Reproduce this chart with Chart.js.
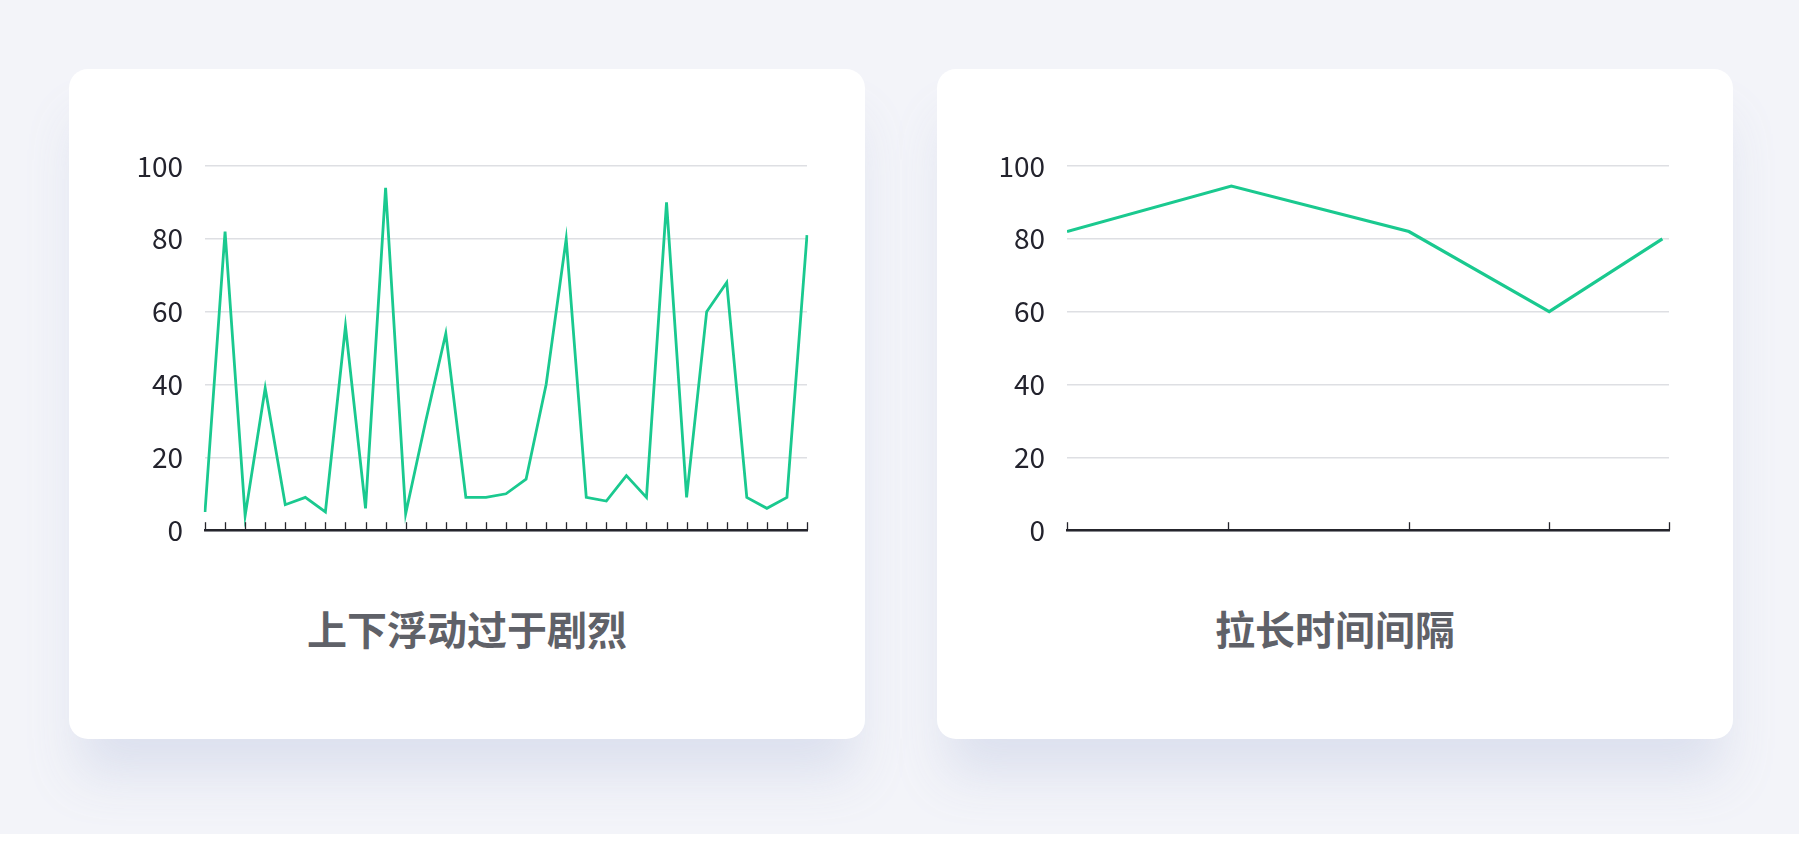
<!DOCTYPE html>
<html>
<head>
<meta charset="utf-8">
<script src="https://cdn.jsdelivr.net/npm/chart.js@4"></script>
<style>
  html, body { margin: 0; padding: 0; }
  body { width: 1799px; height: 859px; background: #ffffff; position: relative; overflow: hidden;
         font-family: "Noto Sans CJK SC", "Noto Sans", sans-serif; }
  .bg { position: absolute; left: 0; top: 0; width: 1799px; height: 834px; background: #f3f4f9; }
  .card { position: absolute; top: 69px; width: 796px; height: 670px; background: #fff; border-radius: 19px;
          box-shadow: 0 45px 50px -10px rgba(216, 221, 236, 0.85); }
  .plot { position: absolute; left: 0; top: 0; width: 796px; height: 500px; }
  .caption { position: absolute; left: 0; width: 796px; top: 530px; text-align: center;
             font-size: 40px; font-weight: 700; color: #5f6168; }
</style>
</head>
<body>
<div class="bg"></div>
<div class="card" style="left:69px">
  <div class="plot"><canvas id="leftChart"></canvas></div>
  <div class="caption">上下浮动过于剧烈</div>
</div>
<div class="card" style="left:937px">
  <div class="plot"><canvas id="rightChart"></canvas></div>
  <div class="caption">拉长时间间隔</div>
</div>
<script>
// left chart: 31 points, jumping up and down
const leftLabels = ["1","2","3","4","5","6","7","8","9","10","11","12","13","14","15","16",
                    "17","18","19","20","21","22","23","24","25","26","27","28","29","30","31"];
const leftValues = [5, 82, 4, 39, 7, 9, 5, 56, 6, 94, 4.5, 30, 54, 9, 9, 10,
                    14, 40, 80, 9, 8, 15, 9, 90, 9, 60, 68, 9, 6, 9, 81];

// right chart: fewer points, uneven spacing
const rightX = [0, 27.3, 56.8, 80.1, 98.9];
const rightValues = [82, 94.5, 82, 60, 80];
const rightTicks = [0, 26.8, 56.8, 80.1, 100];

const yTicks = [0, 20, 40, 60, 80, 100];

const lineColor = "#1ac98f";
const gridColor = "#dedfe3";
const axisColor = "#25252c";

// short tick marks pointing up from the x axis
const upTicks = {
    id: "upTicks",
    afterDraw(chart) {
        const x = chart.scales.x;
        const bottom = chart.chartArea.bottom;
        const c = chart.ctx;
        c.save();
        c.strokeStyle = axisColor;
        c.lineWidth = 1.3;
        x.ticks.forEach((t, i) => {
            const px = Math.round(x.getPixelForTick(i)) + 0.5;
            c.beginPath();
            c.moveTo(px, bottom);
            c.lineTo(px, bottom - 8);
            c.stroke();
        });
        c.restore();
    }
};

function yScale(width) {
    return {
        min: 0,
        max: 100,
        afterFit: (s) => { s.width = width; },
        afterBuildTicks: (s) => { s.ticks = yTicks.map(v => ({ value: v })); },
        grid: { color: gridColor, lineWidth: 1.4, drawTicks: false },
        border: { display: false },
        ticks: {
            padding: 22,
            color: "#23232d",
            font: { family: "Noto Sans CJK SC", size: 28, weight: "400" }
        }
    };
}

function baseOptions(right) {
    return {
        responsive: true,
        maintainAspectRatio: false,
        animation: false,
        layout: { padding: { top: 97, right: right, bottom: 0, left: 0 } },
        plugins: { legend: { display: false }, tooltip: { enabled: false } },
        elements: { point: { radius: 0 } }
    };
}

new Chart(document.getElementById("leftChart"), {
    type: "line",
    data: {
        labels: leftLabels,
        datasets: [{
            data: leftValues,
            borderColor: lineColor,
            borderWidth: 2.8,
            tension: 0,
            fill: false
        }]
    },
    options: Object.assign(baseOptions(58), {
        scales: {
            x: {
                afterFit: (s) => { s.height = 0; },
                grid: { display: false, drawTicks: false },
                border: { display: true, color: axisColor, width: 2.5 },
                ticks: { display: false }
            },
            y: yScale(136)
        }
    }),
    plugins: [upTicks]
});

new Chart(document.getElementById("rightChart"), {
    type: "line",
    data: {
        datasets: [{
            data: rightX.map((x, i) => ({ x: x, y: rightValues[i] })),
            borderColor: lineColor,
            borderWidth: 3.2,
            tension: 0,
            fill: false
        }]
    },
    options: Object.assign(baseOptions(64), {
        scales: {
            x: {
                type: "linear",
                min: 0,
                max: 100,
                afterBuildTicks: (s) => { s.ticks = rightTicks.map(v => ({ value: v })); },
                afterFit: (s) => { s.height = 0; },
                grid: { display: false, drawTicks: false },
                border: { display: true, color: axisColor, width: 2.5 },
                ticks: { display: false }
            },
            y: yScale(130)
        }
    }),
    plugins: [upTicks]
});
</script>
</body>
</html>
